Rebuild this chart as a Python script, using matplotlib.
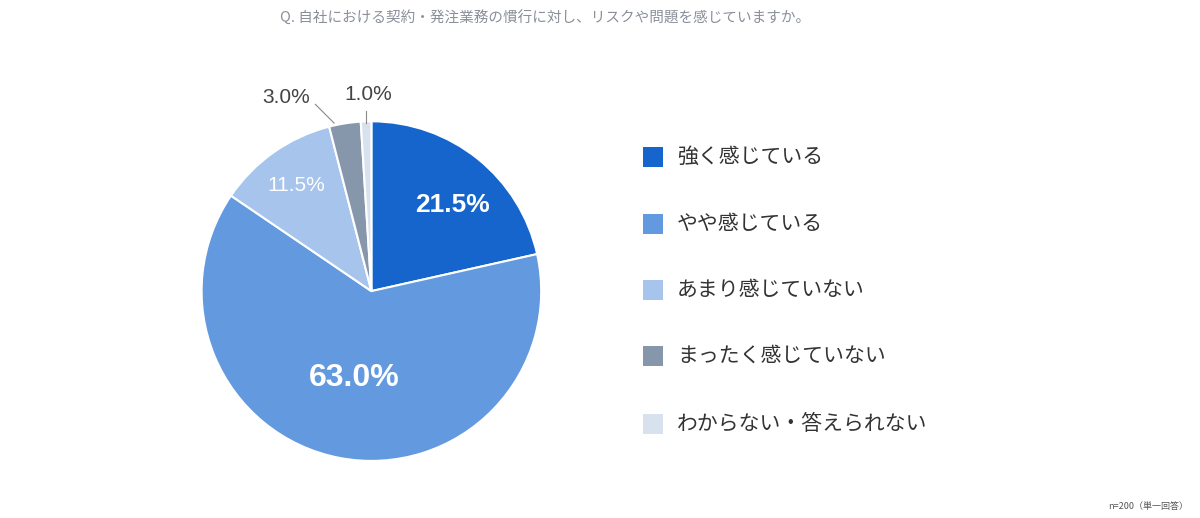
import matplotlib.pyplot as plt
from matplotlib.patches import Rectangle

plt.rcParams['font.family'] = ['Noto Sans CJK JP', 'DejaVu Sans']

labels = ['強く感じている', 'やや感じている', 'あまり感じていない', 'まったく感じていない', 'わからない・答えられない']
values = [21.5, 63.0, 11.5, 3.0, 1.0]
colors = ['#1565cc', '#6399df', '#a6c4ec', '#8797ab', '#d8e2ee']

fig = plt.figure(figsize=(12, 5.18), dpi=100)
ax = fig.add_axes([0.168, 0.110, 0.283, 0.656])
ax.pie(values, colors=colors, startangle=90, counterclock=False,
       wedgeprops=dict(edgecolor='white', linewidth=1.5))
ax.set_xlim(-1, 1)
ax.set_ylim(-1, 1)
ax.set_aspect('equal')

# percentage labels
ax.text(0.48, 0.51, '21.5%', color='white', fontsize=19, weight='bold', ha='center', va='center', family='Liberation Sans')
ax.text(-0.10, -0.51, '63.0%', color='white', fontsize=23, weight='bold', ha='center', va='center', family='Liberation Sans')
ax.text(-0.44, 0.62, '11.5%', color='white', fontsize=15, ha='center', va='center', family='Liberation Sans')
ax.text(-0.50, 1.14, '3.0%', color='#444444', fontsize=15, ha='center', va='center', family='Liberation Sans')
ax.text(-0.02, 1.16, '1.0%', color='#444444', fontsize=15, ha='center', va='center', family='Liberation Sans')
ax.plot([-0.33, -0.22], [1.10, 0.99], color='#888888', lw=0.8, clip_on=False)
ax.plot([-0.03, -0.03], [1.06, 0.99], color='#888888', lw=0.8, clip_on=False)

# legend
ys = [157, 224, 290, 356, 424]
for lab, col, y in zip(labels, colors, ys):
    fy = 1 - y / 518
    fig.patches.append(Rectangle((643 / 1200, fy - 10 / 518), 20 / 1200, 20 / 518,
                                 transform=fig.transFigure, facecolor=col, edgecolor='none'))
    fig.text(677 / 1200, fy, lab, fontsize=15, color='#333333', va='center')

fig.text(545 / 1200, 1 - 18 / 518, 'Q. 自社における契約・発注業務の慣行に対し、リスクや問題を感じていますか。',
         fontsize=10.5, color='#8a8f99', ha='center', va='center')
fig.text(1188 / 1200, 1 - 507 / 518, 'n=200（単一回答）', fontsize=6.5, color='#555555', ha='right', va='center')

fig.savefig('out.png', dpi=100)
